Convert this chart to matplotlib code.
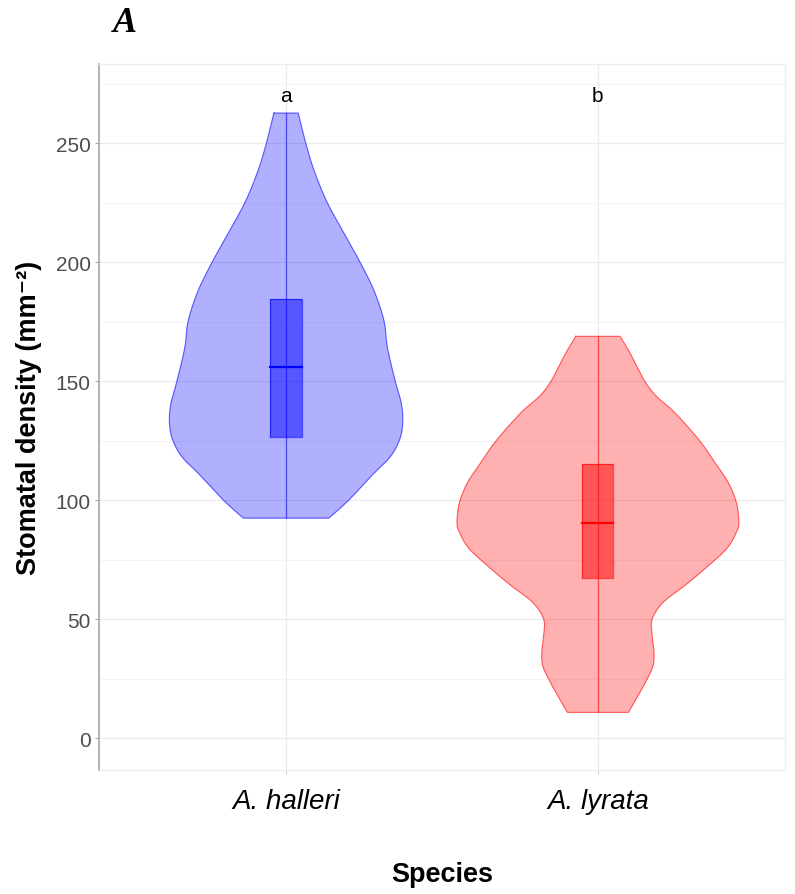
import matplotlib
matplotlib.use("Agg")
import matplotlib.pyplot as plt
import numpy as np

# Species on the x axis
species = ["A. halleri", "A. lyrata"]
letters = ["a", "b"]
letter_y = 270

# Violin outlines: stomatal density (mm^-2) and half-width of the density shape (x units)
halleri_y = [262.6, 250, 238.4, 225, 210.4, 200, 188, 175.3, 164, 150, 140.3, 132, 125, 118, 111, 99.7, 92.4]
halleri_hw = [0.039, 0.063, 0.090, 0.132, 0.193, 0.237, 0.282, 0.314, 0.325, 0.350, 0.370, 0.374, 0.363, 0.333, 0.280, 0.199, 0.137]

lyrata_y = [168.8, 163.4, 157.8, 150, 143.8, 136.8, 125, 115.8, 107.4, 99, 90.6, 86.4, 79.4, 71, 64, 57, 50, 43, 36, 30.4, 24.8, 17.8, 10.8]
lyrata_hw = [0.071, 0.096, 0.119, 0.150, 0.186, 0.246, 0.326, 0.375, 0.418, 0.444, 0.452, 0.444, 0.412, 0.342, 0.278, 0.209, 0.174, 0.174, 0.180, 0.177, 0.158, 0.129, 0.098]

# Box statistics: lower hinge, median, upper hinge
box_q1 = [126.3, 67.1]
box_med = [155.7, 90.2]
box_q3 = [184.3, 115.3]

violin_y = [halleri_y, lyrata_y]
violin_hw = [halleri_hw, lyrata_hw]
colors = ["#0000FF", "#FF0000"]


def smooth_curve(ys, hws, n=12):
    """Catmull-Rom curve through the outline points, for a rounded edge."""
    p = np.column_stack([ys, hws])
    p = np.vstack([p[0], p, p[-1]])
    out = []
    for k in range(1, len(p) - 2):
        p0, p1, p2, p3 = p[k - 1], p[k], p[k + 1], p[k + 2]
        t = np.linspace(0, 1, n, endpoint=False)[:, None]
        seg = 0.5 * ((2 * p1) + (-p0 + p2) * t + (2 * p0 - 5 * p1 + 4 * p2 - p3) * t ** 2
                     + (-p0 + 3 * p1 - 3 * p2 + p3) * t ** 3)
        out.append(seg)
    out.append(p[-2][None, :])
    out = np.vstack(out)
    return out[:, 0], out[:, 1]


plt.rcParams["font.family"] = ["Liberation Sans", "DejaVu Sans"]

fig = plt.figure(figsize=(7.95, 8.95), dpi=100)
ax = fig.add_axes([99 / 795, 1 - 770.5 / 895, (785 - 99) / 795, (770.5 - 65) / 895])

ax.set_xlim(0.4, 2.6)
ax.set_ylim(-13.2, 283.2)

# grid
for v in np.arange(0, 300, 50):
    ax.axhline(v, color="#EBEBEB", lw=0.9, zorder=0)
for v in np.arange(25, 300, 50):
    ax.axhline(v, color="#F3F3F3", lw=0.6, zorder=0)
for x in [1, 2]:
    ax.axvline(x, color="#EBEBEB", lw=0.9, zorder=0)

box_hw = 0.05
for i, (ys, hws, c) in enumerate(zip(violin_y, violin_hw, colors)):
    pos = i + 1
    sy, shw = smooth_curve(np.array(ys), np.array(hws))
    ax.fill_betweenx(sy, pos - shw, pos + shw, facecolor=c, alpha=0.31, edgecolor="none", zorder=2)
    outline_x = np.concatenate([pos - shw, (pos + shw)[::-1], [pos - shw[0]]])
    outline_y = np.concatenate([sy, sy[::-1], [sy[0]]])
    ax.plot(outline_x, outline_y, color=c, lw=0.8, alpha=0.6, zorder=3)
    # whisker line across the full range
    ax.plot([pos, pos], [min(ys), max(ys)], color=c, lw=0.9, alpha=0.55, zorder=3)
    # box
    rect = plt.Rectangle((pos - box_hw, box_q1[i]), 2 * box_hw, box_q3[i] - box_q1[i],
                         facecolor=c, alpha=0.5, edgecolor="none", zorder=4)
    ax.add_patch(rect)
    ax.plot([pos - box_hw, pos + box_hw, pos + box_hw, pos - box_hw, pos - box_hw],
            [box_q1[i], box_q1[i], box_q3[i], box_q3[i], box_q1[i]],
            color=c, lw=0.9, alpha=0.6, zorder=5)
    ax.plot([pos - box_hw, pos + box_hw], [box_med[i], box_med[i]], color=c, lw=1.6, zorder=6)
    ax.text(pos, letter_y, letters[i], ha="center", va="center", fontsize=15, color="black", zorder=7)

# axes styling
for side in ["top", "right", "bottom"]:
    ax.spines[side].set_color("#EEEEEE")
    ax.spines[side].set_linewidth(1.0)
ax.spines["left"].set_color("#A6A6A6")
ax.spines["left"].set_linewidth(1.2)

ax.set_xticks([1, 2])
ax.set_xticklabels(species, fontsize=20, style="italic", color="black")
ax.set_yticks(np.arange(0, 300, 50))
ax.set_yticklabels([str(v) for v in range(0, 300, 50)], fontsize=15, color="#4D4D4D")
ax.tick_params(axis="y", length=3, color="#A6A6A6", pad=3)
ax.tick_params(axis="x", length=3, color="#CCCCCC", pad=10)

ax.set_ylabel("Stomatal density (mm⁻²)", fontsize=19.5, fontweight="bold", labelpad=10)
ax.set_xlabel("Species", fontsize=19.5, fontweight="bold", labelpad=34)

fig.text(113 / 795, 1 - 24 / 895, "A", fontsize=26, fontweight="bold", style="italic",
         family="Liberation Serif", ha="left", va="center")

fig.savefig("out.png", dpi=100)
